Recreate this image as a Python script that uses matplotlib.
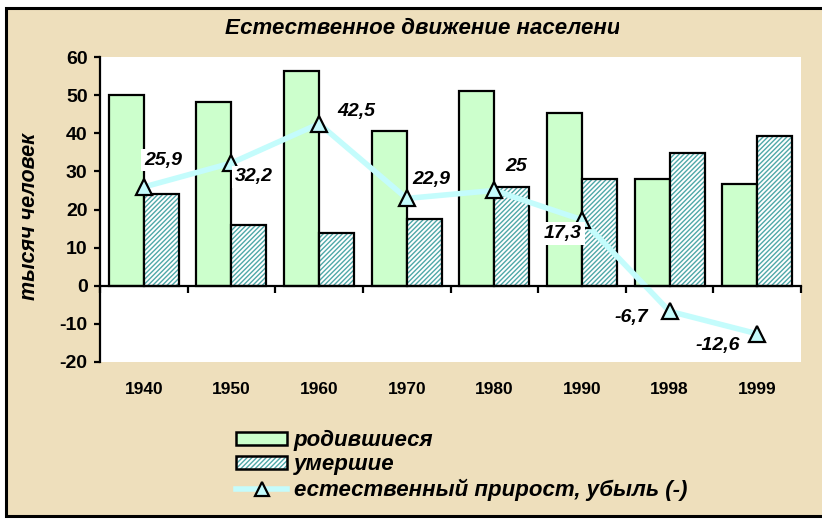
import numpy as np
import matplotlib.pyplot as plt
from matplotlib.patches import Rectangle
from matplotlib.lines import Line2D
from matplotlib.transforms import Bbox
from matplotlib.legend_handler import HandlerTuple

plt.rcParams["font.family"] = ["Liberation Sans", "DejaVu Sans"]
plt.rcParams["font.weight"] = "bold"
plt.rcParams["hatch.linewidth"] = 1.0
plt.rcParams["axes.unicode_minus"] = False

years = ["1940", "1950", "1960", "1970", "1980", "1990", "1998", "1999"]
born = [50.0, 48.2, 56.3, 40.5, 51.0, 45.2, 28.1, 26.6]
died = [24.1, 16.0, 13.8, 17.6, 26.0, 27.9, 34.8, 39.2]
growth = [25.9, 32.2, 42.5, 22.9, 25.0, 17.3, -6.7, -12.6]

title = "Естественное движение населения"
ylabel = "тысяч человек"
names = ["родившиеся", "умершие", "естественный прирост, убыль (-)"]

# label offsets in pixels (dx, dy) relative to the marker
label_off = [(19, 27), (22, -14), (37, 12), (25, 19), (22, 24), (-19, -14), (-38, -6), (-39, -12)]

bg = "#EEDFBC"
green = "#CCFFCC"
teal = "#4FA8A8"
cyan = "#C4FCFC"

fig = plt.figure(figsize=(8.22, 5.19), dpi=100)
fig.patch.set_facecolor("white")
fig.patches.append(Rectangle((6 / 822, 3 / 519), 1.2, 508 / 519, transform=fig.transFigure,
                             facecolor=bg, edgecolor="black", linewidth=2.2, zorder=-10))

ax = fig.add_axes([100 / 822, 1 - 362 / 519, 701 / 822, 305 / 519])
ax.set_facecolor("white")
x = np.arange(len(years))
w = 0.4

ax.bar(x - w / 2, born, w, color=green, edgecolor="black", linewidth=1.6, zorder=2)
ax.bar(x + w / 2, died, w, color="white", edgecolor=teal, hatch="///////", linewidth=0, zorder=2)
ax.bar(x + w / 2, died, w, color="none", edgecolor="black", linewidth=1.6, zorder=3)

ax.plot(x, growth, color=cyan, linewidth=4, zorder=4, solid_capstyle="butt")
ax.plot(x, growth, linestyle="none", marker="^", markersize=12, markerfacecolor=cyan,
        markeredgecolor="black", markeredgewidth=1.6, zorder=5)

for xi, g, (dx, dy) in zip(x, growth, label_off):
    ax.annotate(("%g" % g).replace(".", ","), (xi, g), xytext=(dx * 0.72, dy * 0.72),
                textcoords="offset points", ha="center", va="center", fontsize=14,
                fontstyle="italic", fontweight="bold", zorder=6,
                bbox=dict(boxstyle="square,pad=0.15", facecolor="white", edgecolor="none"))

ax.set_xlim(-0.5, len(years) - 0.5)
ax.set_ylim(-20, 60)
ax.set_yticks(np.arange(-20, 61, 10))
for s in ["top", "right"]:
    ax.spines[s].set_visible(False)
ax.spines["left"].set_linewidth(1.6)
ax.spines["bottom"].set_position(("data", 0))
ax.spines["bottom"].set_linewidth(1.6)
ax.spines["bottom"].set_zorder(4)
ax.set_xticks(np.arange(len(years) + 1) - 0.5)
ax.set_xticklabels([])
ax.tick_params(axis="x", direction="out", length=5, width=1.6)
ax.tick_params(axis="y", direction="out", length=4, width=1.6, labelsize=14, pad=5)
for t in ax.get_yticklabels():
    t.set_fontweight("bold")

for xi, yr in zip(x, years):
    ax.text(xi, -0.09, yr, transform=ax.get_xaxis_transform(), ha="center", va="center",
            fontsize=12.5, fontweight="bold")

t = fig.text(225 / 822, 1 - 28 / 519, title, ha="left", va="center", fontsize=16,
             fontstyle="italic", fontweight="bold")
t.set_clip_box(Bbox.from_extents(0, 0, 619, 519))
t.set_clip_on(True)

fig.text(30 / 822, 1 - 216 / 519, ylabel, rotation=90, ha="center", va="center",
         fontsize=15.5, fontstyle="italic", fontweight="bold")

handles = [
    Rectangle((0, 0), 1, 1, facecolor=green, edgecolor="black", linewidth=1.8),
    (Rectangle((0, 0), 1, 1, facecolor="white", edgecolor=teal, hatch="///////", linewidth=0),
     Rectangle((0, 0), 1, 1, facecolor="none", edgecolor="black", linewidth=1.8)),
    Line2D([], [], color=cyan, linewidth=4, marker="^", markersize=10,
           markerfacecolor=cyan, markeredgecolor="black", markeredgewidth=1.6),
]
leg = fig.legend(handles, names, loc="upper left", bbox_to_anchor=(236 / 822, 1 - 430 / 519),
                 frameon=False, fontsize=16, handlelength=2.3, handleheight=0.55,
                 handletextpad=0.3, labelspacing=0.15, borderaxespad=0, borderpad=0,
                 handler_map={tuple: HandlerTuple(ndivide=1, pad=0)})
for txt in leg.get_texts():
    txt.set_fontstyle("italic")
    txt.set_fontweight("bold")

fig.savefig("out.png", dpi=100)
